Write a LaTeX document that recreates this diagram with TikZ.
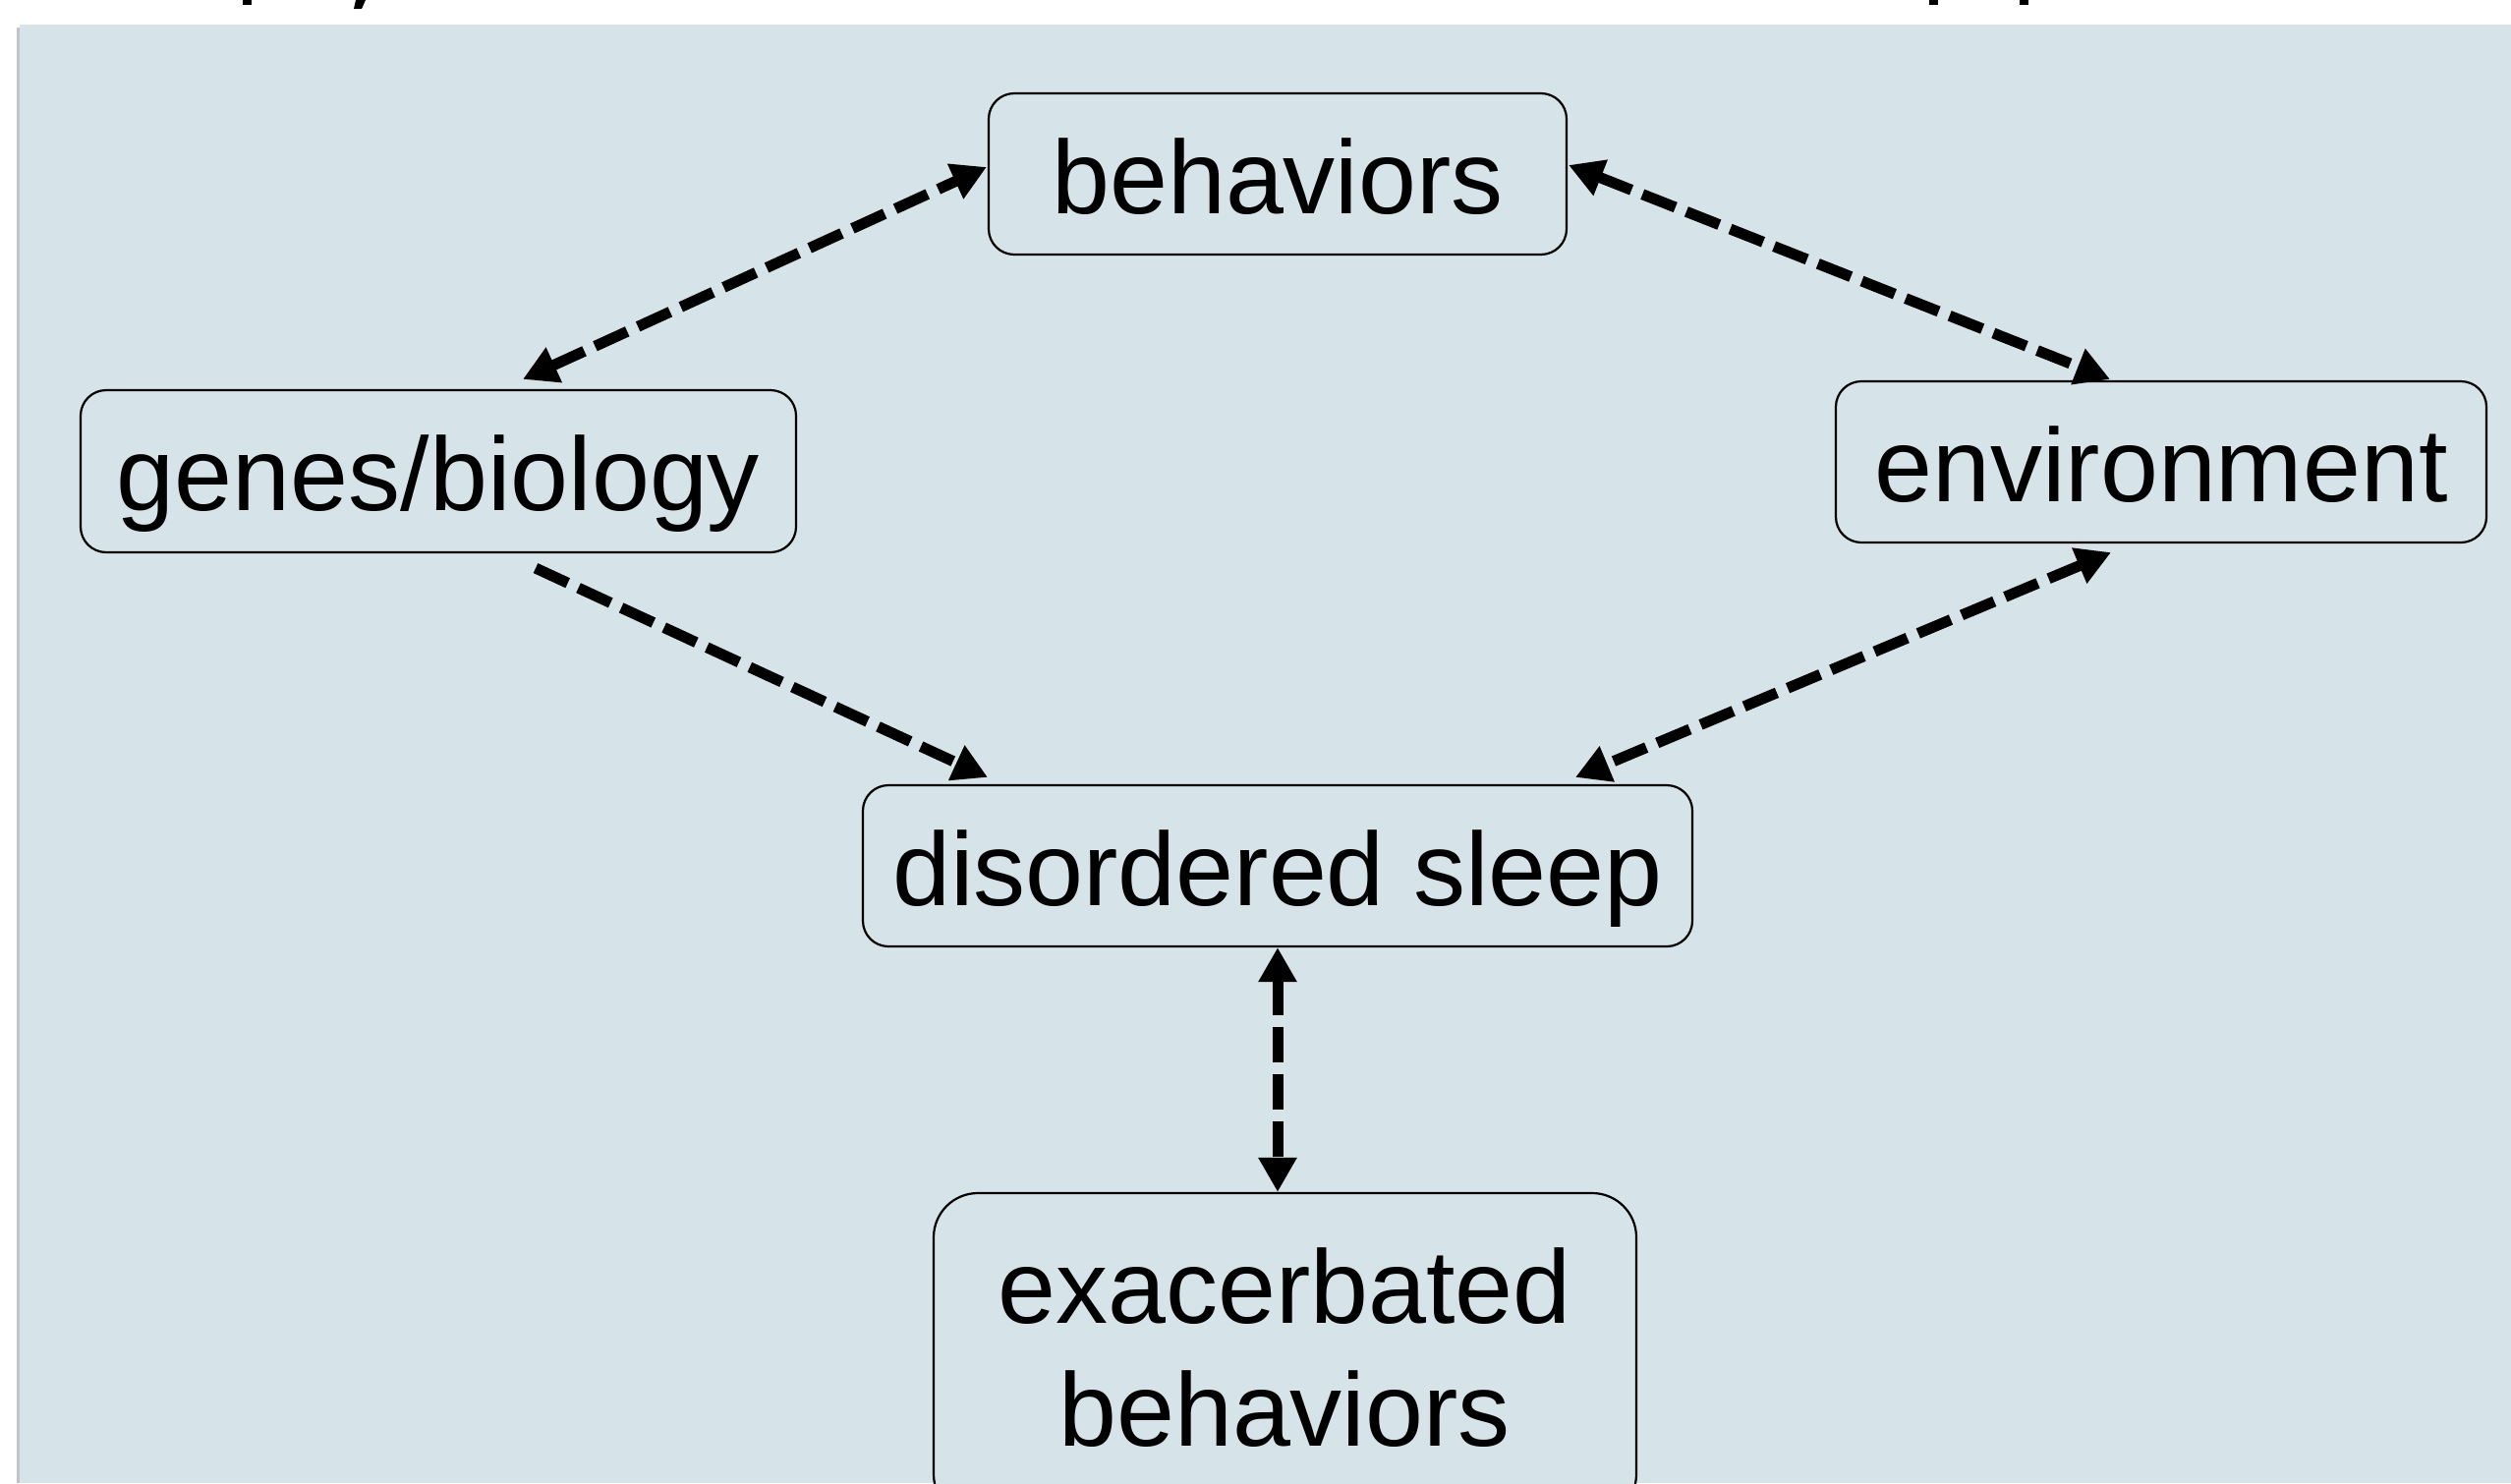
\documentclass[tikz,border=0pt]{standalone}
\usepackage{fontspec}
\setmainfont{Liberation Sans}
\usetikzlibrary{arrows.meta,calc}
\definecolor{panel}{RGB}{214,228,234}
\definecolor{shadowgray}{RGB}{190,196,200}
\begin{document}
\begin{tikzpicture}[x=1pt,y=-1pt,
  box/.style={draw=black, line width=2.2pt, rounded corners=26pt, fill=panel, inner sep=0pt,
    font=\fontsize{106pt}{125pt}\selectfont, text height=84pt, text depth=4pt},
  lbl/.style={inner sep=0pt, font=\fontsize{106pt}{125pt}\selectfont, text height=84pt, text depth=4pt},
  tip/.tip={Triangle[length=35pt,width=37pt]},
  link/.style={line width=11pt, dash pattern=on 36pt off 12pt},
  oneway/.style={link, -tip},
  twoway/.style={link, tip-tip}
]
\clip (0,0) rectangle (2555,1509);
\fill[white] (0,0) rectangle (2555,1509);
% cropped title fragments at the very top
\fill[black] (247,0) rectangle (256,5);
\fill[black] (362,0) -- (372,0) -- (368,9) -- (360,9) -- cycle;
\fill[black] (1963,0) rectangle (1972,5);
\fill[black] (2055,0) rectangle (2064,5);
% panel with faint shadow
\fill[shadowgray] (17,28) rectangle (2555,1509);
\fill[panel] (20,25) rectangle (2555,1509);

% boxes
\node[box, minimum width=588pt, minimum height=164pt] (beh) at (1300,177) {behaviors};
\node[box, minimum width=728pt, minimum height=165pt] (gen) at (446,479.5) {genes/biology};
\node[box, minimum width=662pt, minimum height=164pt] (env) at (2199,470) {environment};
\node[box, minimum width=844pt, minimum height=164pt] (dis) at (1300,881) {disordered sleep};
\node[box, rounded corners=45pt, minimum width=715pt, minimum height=331pt] (ex) at (1307.5,1379.5) {};
\node[lbl, anchor=base] (exA) at (1307,1346) {exacerbated};
\node[lbl, anchor=base] (exB) at (1307,1471) {behaviors};

% connectors
\draw[twoway] ($(gen.north)+(86,-10)$) -- ($(beh.west)+(-1,-7)$);
\draw[twoway] ($(beh.east)+(1,-9)$) -- ($(env.north)+(-52,-1)$);
\draw[oneway] ($(gen.south)+(99,15)$) -- ($(dis.north)+(-295,-7)$);
\draw[twoway] ($(env.south)+(-51,9)$) -- ($(dis.north)+(303,-7)$);
\draw[twoway] (dis.south) -- ($(ex.north)+(-7.5,0)$);
\end{tikzpicture}
\end{document}
